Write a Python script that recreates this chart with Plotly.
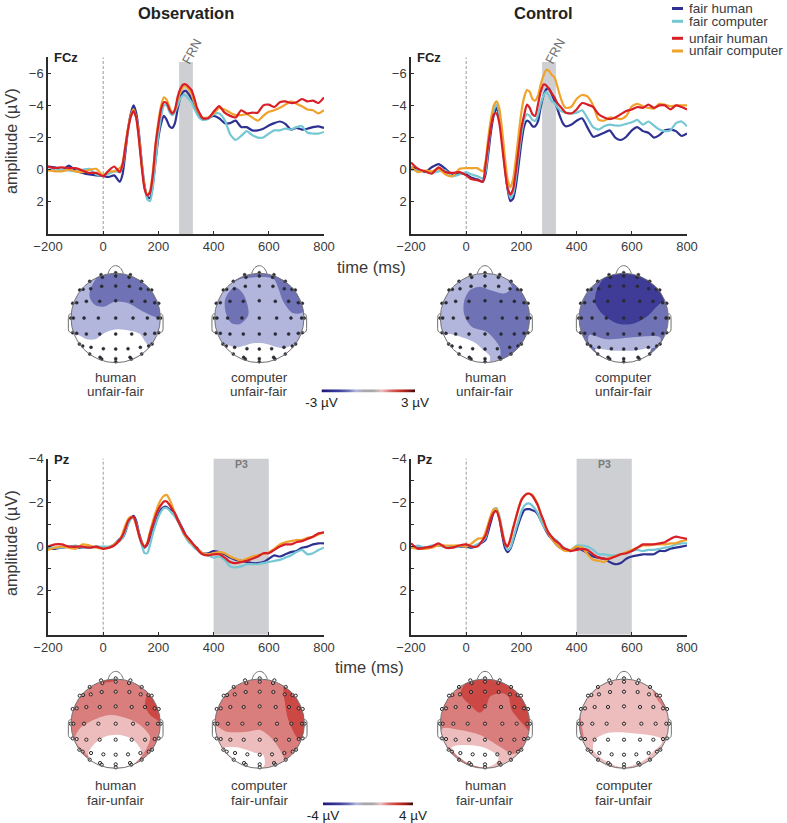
import numpy as np
import plotly.graph_objects as go

W, H = 787, 823
FONT = "Liberation Sans"
TXT = "#3a3a3c"

# ---------- ERP data (microvolts; negative plotted upwards) ----------
TIME = [-200,-175,-150,-125,-100,-75,-50,-25,0,20,40,60,
        70,80,90,100,110,120,130,140,150,160,170,180,190,200,210,
        220,230,240,250,260,270,280,290,300,310,320,330,340,350,360,
        380,400,420,440,460,480,500,520,540,560,580,600,620,640,660,680,700,720,740,760,780,800]

OBS_FCZ_FAIR_HUMAN = [-0.2,-0.15,0.05,-0.25,0.05,0.2,0.3,0.35,0.4,0.45,0.35,0.75,
    0.3,-1.0,-2.5,-3.5,-4.0,-3.5,-2.2,-0.4,1.0,1.7,1.75,0.9,-0.6,-2.0,-2.9,
    -3.35,-3.1,-2.7,-2.6,-2.9,-3.8,-4.5,-4.85,-4.9,-4.7,-4.4,-4.0,-3.6,-3.3,-3.15,
    -3.2,-3.35,-3.2,-2.9,-2.9,-3.05,-2.65,-2.65,-2.45,-2.45,-2.55,-2.75,-2.9,-3.0,-2.85,-2.5,-2.6,-2.5,-2.55,-2.65,-2.7,-2.6]
OBS_FCZ_FAIR_COMPUTER = [0,0.05,0,0.05,0.1,0,-0.05,0.3,0.35,0.25,0.1,0.15,
    -0.2,-1.3,-2.5,-3.3,-3.7,-3.2,-2.0,-0.3,1.1,1.85,1.95,1.1,-0.6,-2.2,-3.3,
    -4.0,-4.0,-3.6,-3.4,-3.6,-4.0,-4.45,-4.65,-4.6,-4.4,-4.2,-3.8,-3.45,-3.2,-3.1,
    -3.15,-3.45,-3.5,-3.1,-2.2,-1.85,-2.1,-2.4,-2.15,-2.0,-2.0,-2.25,-2.45,-2.45,-2.55,-2.5,-2.65,-2.7,-2.3,-2.25,-2.25,-2.35]
OBS_FCZ_UNFAIR_HUMAN = [-0.2,-0.1,-0.15,-0.1,-0.1,0.05,0.2,0.2,0.4,0.05,-0.2,0.15,
    -0.3,-1.4,-2.5,-3.3,-3.65,-3.2,-1.8,-0.1,1.2,1.6,1.4,0.3,-1.6,-2.8,-3.8,
    -4.2,-4.15,-3.75,-3.5,-3.75,-4.55,-5.05,-5.3,-5.3,-5.15,-4.95,-4.45,-3.85,-3.5,-3.2,
    -3.2,-3.6,-3.95,-3.55,-3.35,-3.25,-3.7,-3.5,-3.55,-3.55,-4.0,-4.05,-3.9,-4.2,-4.25,-4.15,-4.2,-4.4,-4.25,-4.3,-4.15,-4.5]
OBS_FCZ_UNFAIR_COMPUTER = [0.05,0.1,0.1,0,0.1,0.15,0,-0.05,0.35,0.1,0.1,-0.1,
    -0.4,-1.5,-2.6,-3.4,-3.75,-3.2,-1.9,-0.2,1.1,1.6,1.3,0.1,-1.6,-3.0,-4.0,
    -4.5,-4.35,-3.9,-3.55,-3.7,-4.4,-4.85,-5.2,-5.2,-5.0,-4.7,-4.2,-3.75,-3.45,-3.25,
    -3.25,-3.5,-3.85,-3.75,-3.55,-3.4,-3.4,-3.45,-3.25,-3.05,-3.35,-3.6,-3.7,-3.85,-4.05,-4.25,-4.1,-3.95,-3.75,-3.7,-3.5,-3.7]

CTL_FCZ_FAIR_HUMAN = [-0.15,-0.05,0.15,-0.15,-0.35,-0.05,0.3,0.25,0.3,0.5,0.6,0.75,
    0.3,-1.0,-2.4,-3.4,-3.85,-3.3,-1.9,-0.2,1.2,1.95,1.8,1.0,-0.3,-1.7,-2.7,
    -3.05,-2.95,-2.7,-2.7,-3.0,-3.9,-4.6,-5.0,-5.05,-4.7,-4.3,-3.8,-3.3,-2.9,-2.7,
    -2.8,-3.05,-3.2,-2.6,-2.05,-2.15,-2.3,-2.45,-2.0,-1.85,-2.05,-2.45,-2.65,-2.4,-2.3,-2.0,-2.15,-2.45,-2.5,-2.4,-2.1,-2.25]
CTL_FCZ_FAIR_COMPUTER = [0,0.05,0.1,0.2,0.1,0.05,0.4,0.3,0.15,0.3,0.4,0.55,
    0.1,-1.4,-2.8,-3.7,-4.05,-3.5,-2.1,-0.3,1.05,1.75,1.5,0.5,-0.9,-2.2,-3.1,
    -3.45,-3.35,-3.1,-3.05,-3.4,-4.1,-4.6,-4.85,-4.6,-4.25,-4.15,-3.9,-3.7,-3.6,-3.55,
    -3.5,-3.55,-3.7,-3.2,-2.65,-2.5,-2.7,-2.8,-2.75,-2.75,-2.85,-2.95,-3.1,-2.8,-3.0,-2.75,-2.5,-2.4,-2.45,-2.9,-3.0,-2.7]
CTL_FCZ_UNFAIR_HUMAN = [-0.45,-0.05,0.1,0.25,-0.15,0.15,0.2,0.15,0.35,0.6,0.65,0.75,
    -0.3,-1.6,-2.7,-3.45,-3.5,-2.9,-1.5,0.0,1.15,1.55,1.2,0.1,-1.3,-2.6,-3.4,
    -4.05,-3.85,-3.45,-3.35,-4.05,-4.85,-5.3,-5.25,-5.0,-4.75,-4.5,-4.15,-3.95,-3.75,-3.55,
    -3.5,-3.75,-4.15,-4.05,-3.9,-3.45,-3.25,-3.15,-3.25,-3.45,-3.65,-3.75,-3.9,-3.85,-4.05,-3.85,-4.0,-4.0,-3.75,-4.0,-3.9,-3.75]
CTL_FCZ_UNFAIR_COMPUTER = [-0.2,0.15,0.05,0.1,-0.05,0.3,0.4,-0.05,-0.1,-0.1,-0.1,0.1,
    -0.5,-2.0,-3.2,-4.0,-4.25,-3.8,-2.5,-0.8,0.6,1.1,0.6,-0.7,-2.2,-3.6,-4.5,
    -4.95,-4.85,-4.4,-4.3,-4.6,-5.3,-5.85,-6.2,-6.15,-5.9,-5.75,-5.2,-4.6,-4.1,-3.85,
    -3.9,-4.4,-4.65,-4.55,-4.0,-3.1,-3.05,-3.25,-3.2,-3.15,-3.35,-3.95,-4.1,-3.95,-3.85,-3.8,-4.1,-4.05,-3.95,-4.0,-4.0,-4.0]

OBS_PZ_FAIR_HUMAN = [0.1,0.1,0.05,0,0.05,0.05,0.05,0.0,0.05,0.05,-0.1,-0.35,
    -0.4,-0.65,-1.05,-1.3,-1.4,-1.15,-0.6,-0.2,0.05,-0.1,-0.4,-0.75,-1.1,-1.45,-1.7,
    -1.8,-1.8,-1.7,-1.65,-1.5,-1.25,-1.0,-0.75,-0.5,-0.35,-0.2,-0.05,0.05,0.2,0.3,
    0.3,0.2,0.25,0.35,0.5,0.6,0.65,0.7,0.75,0.75,0.7,0.55,0.4,0.45,0.35,0.25,0.2,0.05,0,-0.1,-0.15,-0.15]
OBS_PZ_FAIR_COMPUTER = [0.05,0.05,0.05,0,-0.05,0.05,0.05,0,0.0,0.0,-0.1,-0.25,
    -0.4,-0.7,-1.0,-1.25,-1.3,-1.05,-0.5,-0.05,0.3,0.3,-0.1,-0.6,-1.0,-1.35,-1.6,
    -1.75,-1.75,-1.65,-1.5,-1.35,-1.15,-0.9,-0.6,-0.4,-0.2,-0.1,0.05,0.15,0.25,0.35,
    0.4,0.5,0.45,0.6,0.9,0.95,0.9,0.8,0.8,0.8,0.75,0.7,0.65,0.6,0.5,0.4,0.25,0.15,0.35,0.3,0.15,0.05]
OBS_PZ_UNFAIR_HUMAN = [0,-0.1,-0.1,0,0,0,0.05,0,0.1,0.05,-0.05,-0.3,
    -0.5,-0.8,-1.15,-1.3,-1.35,-1.0,-0.5,-0.15,0.0,-0.15,-0.6,-1.0,-1.4,-1.7,-1.9,
    -2.05,-2.05,-1.9,-1.7,-1.5,-1.2,-0.95,-0.7,-0.5,-0.35,-0.2,-0.05,0.1,0.25,0.35,
    0.4,0.35,0.35,0.5,0.7,0.75,0.7,0.65,0.55,0.45,0.3,0.3,0.15,0.0,-0.1,-0.1,-0.2,-0.25,-0.35,-0.45,-0.6,-0.65]
OBS_PZ_UNFAIR_COMPUTER = [0.15,0.05,0,0.05,0.1,-0.1,-0.05,0.05,0.1,0.05,-0.1,-0.3,
    -0.6,-0.95,-1.25,-1.35,-1.3,-0.95,-0.5,-0.2,0.0,-0.2,-0.7,-1.15,-1.55,-1.9,-2.15,
    -2.3,-2.35,-2.15,-1.85,-1.5,-1.2,-0.95,-0.65,-0.45,-0.3,-0.15,-0.05,0.1,0.2,0.3,
    0.35,0.3,0.25,0.3,0.45,0.55,0.65,0.55,0.45,0.4,0.35,0.25,0.1,-0.1,-0.2,-0.25,-0.3,-0.3,-0.4,-0.45,-0.55,-0.65]

CTL_PZ_FAIR_HUMAN = [0.05,0.05,0.05,0.0,-0.05,0,0,0,0,0.05,-0.05,-0.2,
    -0.3,-0.7,-1.15,-1.55,-1.65,-1.3,-0.55,0.05,0.25,0.1,-0.25,-0.65,-1.05,-1.4,-1.65,
    -1.7,-1.7,-1.65,-1.6,-1.45,-1.2,-0.95,-0.7,-0.5,-0.35,-0.2,-0.05,0.05,0.1,0.15,
    0.2,0.05,0.15,0.3,0.45,0.5,0.55,0.7,0.8,0.75,0.55,0.45,0.4,0.35,0.35,0.35,0.2,0.2,0.1,0.05,0.0,-0.05]
CTL_PZ_FAIR_COMPUTER = [0.05,-0.05,0.05,-0.05,-0.05,0.0,0.05,0.0,-0.05,0.0,-0.1,-0.25,
    -0.4,-0.9,-1.35,-1.7,-1.75,-1.4,-0.8,-0.15,0.15,0.05,-0.35,-0.8,-1.2,-1.6,-1.85,
    -1.95,-1.95,-1.85,-1.7,-1.5,-1.2,-0.95,-0.75,-0.6,-0.45,-0.35,-0.25,-0.1,0.0,0.1,
    0.15,-0.05,-0.05,0.0,0.15,0.35,0.35,0.4,0.4,0.35,0.3,0.2,0.15,0.2,0.15,0.15,0.1,0.05,0.0,-0.1,-0.15,-0.15]
CTL_PZ_UNFAIR_HUMAN = [-0.15,0.1,0.05,0.0,-0.15,0.05,0.05,-0.05,-0.1,0.0,0.0,-0.3,
    -0.5,-0.9,-1.3,-1.55,-1.6,-1.25,-0.65,-0.15,0.0,-0.35,-0.85,-1.3,-1.75,-2.1,-2.3,
    -2.4,-2.4,-2.3,-2.1,-1.85,-1.5,-1.2,-0.85,-0.6,-0.45,-0.3,-0.2,-0.1,0.05,0.1,
    0.2,0.15,0.1,0.15,0.35,0.5,0.55,0.55,0.45,0.35,0.3,0.2,0.05,-0.1,-0.1,-0.1,-0.15,-0.2,-0.35,-0.45,-0.4,-0.35]
CTL_PZ_UNFAIR_COMPUTER = [0.05,0.1,0.1,0.05,-0.05,-0.05,-0.05,-0.05,0.0,-0.15,-0.35,-0.4,
    -0.65,-1.05,-1.45,-1.7,-1.7,-1.3,-0.7,-0.2,0,-0.3,-0.8,-1.3,-1.75,-2.15,-2.3,
    -2.4,-2.4,-2.35,-2.15,-1.9,-1.5,-1.15,-0.8,-0.55,-0.35,-0.2,-0.05,0.05,0.15,0.2,
    0.15,0.0,0.05,0.35,0.6,0.65,0.7,0.5,0.45,0.35,0.25,0.15,0.05,-0.05,-0.05,-0.1,-0.1,-0.1,-0.15,-0.15,-0.25,-0.3]

SERIES_NAMES = ["fair human", "fair computer", "unfair human", "unfair computer"]
DRAW_ORDER = [0, 1, 3, 2]
SERIES_COLORS = {"fair human": "#2e3192", "fair computer": "#74c7d3",
                 "unfair human": "#d81e26", "unfair computer": "#f0a32c"}

XTICKS = [-200, 0, 200, 400, 600, 800]
XTICKTEXT = ["\u2212200", "0", "200", "400", "600", "800"]

# ---------- topography contours, traced in the head's own units (radius 134) ----------
RED_PALE, RED_MID, RED_DARK = "#edbcbc", "#d97d7d", "#cc4844"
BLUE_PALE, BLUE_MID, BLUE_DARK = "#b2b6dd", "#6f73b6", "#3f3c98"
WHITE = "#ffffff"

M1_WHITE = [(108,225),(140,238),(165,238),(195,218),(230,208),(270,212),(300,222),(312,240),(325,262),(310,280),(280,297),(270,320),(180,330),(80,300)]
M1_MID = [(182,38),(150,90),(150,115),(165,135),(190,140),(225,125),(265,130),(310,155),(362,172),(380,120),(360,60),(300,25),(210,25)]
M2_WHITE = [(548,252),(590,262),(640,250),(670,250),(730,265),(775,250),(760,300),(660,335),(570,300)]
M2_BLOB = [(585,82),(605,95),(620,125),(625,165),(600,192),(575,190),(558,160),(555,120),(568,95)]
M2_MID = [(575,66),(610,55),(680,52),(702,58),(715,85),(730,125),(760,160),(792,155),(810,120),(795,60),(700,20),(600,25)]
M3_WHITE = [(85,222),(130,233),(165,248),(190,270),(210,290),(200,325),(140,305),(90,265),(68,232)]
M3_MID = [(265,60),(275,82),(255,100),(210,90),(180,80),(150,90),(132,125),(133,165),(155,200),(200,215),(225,240),(240,265),(240,295),(225,325),(300,300),(345,220),(345,120),(290,45)]
M4_PALE = [(508,225),(560,238),(640,232),(720,232),(720,250),(690,268),(640,274),(560,274),(520,262),(505,245)]
M4_WHITE = [(525,268),(580,272),(640,272),(692,266),(670,302),(620,325),(560,302)]
M4_DARK = [(548,58),(530,90),(525,125),(545,160),(590,190),(635,192),(680,170),(715,135),(735,118),(690,55),(650,30),(570,30)]
M5_PALE = [(105,240),(120,205),(160,180),(210,165),(260,175),(300,195),(330,230),(322,260),(300,292),(250,322),(200,322),(150,292)]
M5_WHITE = [(145,280),(165,250),(195,230),(240,225),(280,240),(300,265),(305,285),(270,318),(180,318),(150,300)]
M5_DARK = [(322,105),(315,135),(330,165),(362,190),(362,232),(380,195),(375,130),(340,92)]
M5_TOP = [(188,62),(205,55),(232,52),(222,62),(195,67)]
M6_PALE = [(522,195),(560,215),(620,215),(660,210),(690,230),(720,270),(732,302),(700,318),(640,332),(590,312),(560,282),(530,240)]
M6_WHITE = [(552,265),(590,262),(650,280),(670,285),(672,318),(640,330),(600,312)]
M6_DARK = [(733,80),(735,130),(745,180),(778,238),(800,200),(800,130),(765,80)]
M7_DARK = [(150,55),(122,100),(150,135),(180,158),(200,135),(210,110),(245,100),(265,110),(275,150),(320,205),(332,222),(345,190),(338,100),(270,50),(190,40)]
M7_PALE = [(68,205),(120,210),(180,225),(240,260),(280,282),(300,272),(270,302),(230,322),(150,312),(85,262),(62,230)]
M7_WHITE = [(95,262),(130,255),(190,262),(235,290),(232,305),(200,322),(150,312),(110,285)]
M8_LEFT = [(478,160),(486,200),(490,240),(470,230),(465,170)]
M8_RIGHT = [(700,92),(720,130),(745,158),(765,130),(720,85)]
M8_WHITE = [(525,240),(560,220),(620,218),(722,235),(725,250),(700,275),(670,302),(612,322),(560,305),(520,270)]

MAPS = [
    dict(cx=115.7, cy=318.0, zc=(227,174), base=BLUE_PALE, layers=[(WHITE,M1_WHITE),(BLUE_MID,M1_MID)], caption=("human","unfair-fair"), open_dots=False),
    dict(cx=259.3, cy=318.0, zc=(658,174), base=BLUE_PALE, layers=[(WHITE,M2_WHITE),(BLUE_MID,M2_BLOB),(BLUE_MID,M2_MID)], caption=("computer","unfair-fair"), open_dots=False),
    dict(cx=485.0, cy=318.0, zc=(195,174), base=BLUE_PALE, layers=[(WHITE,M3_WHITE),(BLUE_MID,M3_MID)], caption=("human","unfair-fair"), open_dots=False),
    dict(cx=623.7, cy=318.0, zc=(611,174), base=BLUE_MID, layers=[(BLUE_PALE,M4_PALE),(WHITE,M4_WHITE),(BLUE_DARK,M4_DARK)], caption=("computer","unfair-fair"), open_dots=False),
    dict(cx=115.7, cy=723.7, zc=(227,191), base=RED_MID, layers=[(RED_PALE,M5_PALE),(WHITE,M5_WHITE),(RED_DARK,M5_DARK),(RED_DARK,M5_TOP)], caption=("human","fair-unfair"), open_dots=True),
    dict(cx=259.7, cy=723.7, zc=(659,191), base=RED_MID, layers=[(RED_PALE,M6_PALE),(WHITE,M6_WHITE),(RED_DARK,M6_DARK)], caption=("computer","fair-unfair"), open_dots=True),
    dict(cx=485.0, cy=723.7, zc=(195,191), base=RED_MID, layers=[(RED_DARK,M7_DARK),(RED_PALE,M7_PALE),(WHITE,M7_WHITE)], caption=("human","fair-unfair"), open_dots=True),
    dict(cx=624.0, cy=723.7, zc=(612,191), base=RED_PALE, layers=[(RED_MID,M8_LEFT),(RED_MID,M8_RIGHT),(WHITE,M8_WHITE)], caption=("computer","fair-unfair"), open_dots=True),
]

ELECTRODES_X = [0,0,-44,44,-40,40,-78,78,-108,108,-98,98,-75,75,-42,0,41,
                -129,-117,-88,-48,0,48,88,117,129,
                -135,-127,-95,-52,0,52,95,127,135,
                -129,-117,-88,-48,0,48,88,117,129,
                -109,-99,-74,-37,0,37,74,99,109,
                -78,-47,-42,0,0,43,47,78]
ELECTRODES_Y = [-136,-126,-130,-130,-122,-122,-110,-110,-84,-84,-86,-86,-88,-88,-95,-96,-95,
                -44,-46,-50,-50,-52,-50,-50,-46,-44,
                0,0,0,0,0,0,0,0,0,
                44,46,48,48,48,48,48,46,44,
                78,84,88,92,93,92,88,84,78,
                108,118,123,122,131,118,123,108]

CBAR_COLORS = ["#1f1a78","#2e2c8e","#3f3e9c","#6c70b5","#b2b6dd","#a8a8a8","#a8a8a8","#ecc0c0","#d97070","#cc3a30","#9c2018","#3c0a08"]

# ---------- geometry helpers ----------
px = lambda v: v / W
py = lambda v: 1 - v / H

fig = go.Figure()
axis_n = [0]
layout_axes = {}
shapes = []
annotations = []

def new_axes(x0, x1, ytop, ybot, xcfg, ycfg):
    axis_n[0] += 1
    n = axis_n[0]
    s = "" if n == 1 else str(n)
    layout_axes[f"xaxis{s}"] = dict(domain=[px(x0), px(x1)], anchor=f"y{s}", automargin=False, **xcfg)
    layout_axes[f"yaxis{s}"] = dict(domain=[py(ybot), py(ytop)], anchor=f"x{s}", automargin=False, **ycfg)
    return f"x{s}", f"y{s}"

def note(x, y, text, size=13, color=TXT, bold=False, angle=0, align="center", xanchor="center"):
    annotations.append(dict(x=px(x), y=py(y), xref="paper", yref="paper", text=f"<b>{text}</b>" if bold else text,
                            showarrow=False, xanchor=xanchor, yanchor="middle", align=align, textangle=angle,
                            font=dict(family=FONT, size=size, color=color)))

AXCOL = "#2b2b2b"
def erp_panel(x0, x1, ytop, ybot, yrange, ytickvals, yticktext, series, band, band_top, channel, label_xy, label_text, label_angle, label_kw):
    xcfg = dict(range=[-200, 800], tickvals=XTICKS, ticktext=XTICKTEXT, ticks="inside", ticklen=3, tickwidth=1,
                tickcolor=AXCOL, showgrid=False, zeroline=False, showline=True, linecolor=AXCOL, linewidth=1.5,
                tickfont=dict(family=FONT, size=13, color=TXT), ticklabelstandoff=0)
    ycfg = dict(range=yrange, tickvals=ytickvals, ticktext=yticktext, ticks="inside", ticklen=3, tickwidth=1,
                tickcolor=AXCOL, showgrid=False, zeroline=False, showline=True, linecolor=AXCOL, linewidth=1.5,
                tickfont=dict(family=FONT, size=13, color=TXT))
    xa, ya = new_axes(x0, x1, ytop, ybot, xcfg, ycfg)
    shapes.append(dict(type="rect", xref=xa, yref=ya, x0=band[0], x1=band[1], y0=yrange[0], y1=band_top,
                       fillcolor="#cdcfd2", line_width=0, layer="below"))
    fig.add_trace(go.Scatter(x=[0, 0], y=yrange, mode="lines", xaxis=xa, yaxis=ya, showlegend=False, hoverinfo="skip",
                             line=dict(color="#9a9a9a", width=1, dash="3px,2px")))
    for i in DRAW_ORDER:
        name, vals = SERIES_NAMES[i], series[i]
        assert len(vals) == len(TIME), (channel, name, len(vals))
        fig.add_trace(go.Scatter(x=TIME, y=vals, mode="lines", name=name, xaxis=xa, yaxis=ya, showlegend=False,
                                 line=dict(color=SERIES_COLORS[name], width=2.2, shape="spline", smoothing=0.6)))
    note(x0 + 4, ytop + 0.5, channel, size=13, color="#222", bold=True, xanchor="left")
    note(label_xy[0], label_xy[1], label_text, angle=label_angle, **label_kw)

FCZ_TICKS = [-6, -4, -2, 0, 2, 4]
FCZ_TEXT = ["\u22126", "\u22124", "\u22122", "0", "2", ""]
PZ_TICKS = [-4, -3, -2, -1, 0, 1, 2, 3, 4]
PZ_TEXT = ["\u22124", "", "\u22122", "", "0", "", "2", "", ""]

frn_kw = dict(size=13, color="#6f6f6f")
p3_kw = dict(size=10.5, color="#7a7a7a", bold=True)

erp_panel(48, 324, 57.2, 234, [4, -7], FCZ_TICKS, FCZ_TEXT,
          [OBS_FCZ_FAIR_HUMAN, OBS_FCZ_FAIR_COMPUTER, OBS_FCZ_UNFAIR_HUMAN, OBS_FCZ_UNFAIR_COMPUTER],
          (275, 325), -6.7, "FCz", (192, 52), "FRN", -62, frn_kw)
erp_panel(411, 687, 57.2, 234, [4, -7], FCZ_TICKS, FCZ_TEXT,
          [CTL_FCZ_FAIR_HUMAN, CTL_FCZ_FAIR_COMPUTER, CTL_FCZ_UNFAIR_HUMAN, CTL_FCZ_UNFAIR_COMPUTER],
          (275, 325), -6.7, "FCz", (555.7, 51), "FRN", -62, frn_kw)
erp_panel(48, 324, 458.5, 634.7, [4, -4], PZ_TICKS, PZ_TEXT,
          [OBS_PZ_FAIR_HUMAN, OBS_PZ_FAIR_COMPUTER, OBS_PZ_UNFAIR_HUMAN, OBS_PZ_UNFAIR_COMPUTER],
          (400, 600), -4, "Pz", (241, 464), "P3", 0, p3_kw)
erp_panel(411, 687, 458.5, 634.7, [4, -4], PZ_TICKS, PZ_TEXT,
          [CTL_PZ_FAIR_HUMAN, CTL_PZ_FAIR_COMPUTER, CTL_PZ_UNFAIR_HUMAN, CTL_PZ_UNFAIR_COMPUTER],
          (400, 600), -4, "Pz", (604, 464), "P3", 0, p3_kw)

# ---------- topographic maps ----------
HALF = 170
RAD = 134
theta = np.linspace(0, 2*np.pi, 181)
mask_x = [-HALF, HALF, HALF, -HALF, -HALF] + list(-RAD*np.sin(theta)) + [-HALF]
mask_y = [-HALF, -HALF, HALF, HALF, -HALF] + list(-RAD*np.cos(theta)) + [-HALF]
hidden = dict(visible=False, fixedrange=True)
for m in MAPS:
    hw = HALF / 3.0
    xa, ya = new_axes(m["cx"] - hw, m["cx"] + hw, m["cy"] - hw, m["cy"] + hw,
                      dict(range=[-HALF, HALF], **hidden), dict(range=[HALF, -HALF], **hidden))
    shapes.append(dict(type="circle", xref=xa, yref=ya, x0=-RAD, x1=RAD, y0=-RAD, y1=RAD,
                       fillcolor=m["base"], line_width=0, layer="below"))
    zx, zy = m["zc"]
    for color, pts in m["layers"]:
        xs = [p[0] - zx for p in pts] + [pts[0][0] - zx]
        ys = [p[1] - zy for p in pts] + [pts[0][1] - zy]
        fig.add_trace(go.Scatter(x=xs, y=ys, mode="lines", fill="toself", fillcolor=color, xaxis=xa, yaxis=ya,
                                 showlegend=False, hoverinfo="skip", line=dict(width=0, color=color, shape="spline", smoothing=0.9)))
    fig.add_trace(go.Scatter(x=mask_x, y=mask_y, mode="lines", fill="toself", fillcolor="white", xaxis=xa, yaxis=ya,
                             showlegend=False, hoverinfo="skip", line=dict(width=0, color="white")))
    head_line = dict(color="#707070", width=1)
    shapes.append(dict(type="circle", xref=xa, yref=ya, x0=-RAD, x1=RAD, y0=-RAD, y1=RAD, line=head_line, layer="above"))
    shapes.append(dict(type="path", xref=xa, yref=ya, line=head_line, layer="above",
                       path="M -23 -133 C -14 -165 14 -165 23 -133"))
    for s in (-1, 1):
        shapes.append(dict(type="path", xref=xa, yref=ya, line=head_line, layer="above",
                           path=f"M {s*132} -12 C {s*140} -14 {s*142} -8 {s*142} 2 L {s*142} 32 C {s*142} 44 {s*134} 46 {s*127} 40"))
    if m["open_dots"]:
        marker = dict(size=3.2, color="rgba(255,255,255,0.3)", line=dict(color="#262626", width=1))
    else:
        marker = dict(size=3.0, color="#2a2a33", line=dict(color="#2a2a33", width=0.5))
    fig.add_trace(go.Scatter(x=ELECTRODES_X, y=ELECTRODES_Y, mode="markers", marker=marker, xaxis=xa, yaxis=ya,
                             showlegend=False, hoverinfo="skip"))
    ytop = 377 if m["cy"] < 400 else 785
    note(m["cx"], ytop, m["caption"][0], size=13.5, color=TXT)
    note(m["cx"], ytop + 15, m["caption"][1], size=13.5, color=TXT)

# ---------- colour bars ----------
def colorbar(x0, x1, y, limit):
    ticks = np.linspace(-limit, limit, len(CBAR_COLORS))
    xa, ya = new_axes(x0, x1, y - 1.7, y + 1.7,
                      dict(range=[-limit, limit], tickvals=[-limit, limit],
                           ticktext=[f"-{limit} \u00b5V", f"{limit} \u00b5V"], showgrid=False, zeroline=False, ticks="",
                           tickfont=dict(family=FONT, size=13.5, color="#222"), ticklabelstandoff=0),
                      dict(range=[0, 1], visible=False))
    fig.add_trace(go.Heatmap(x=ticks, y=[0.5], z=[list(ticks)], xaxis=xa, yaxis=ya, showscale=False, zsmooth="best",
                             hoverinfo="skip",
                             colorscale=[[i/(len(CBAR_COLORS)-1), c] for i, c in enumerate(CBAR_COLORS)]))

colorbar(321.5, 415, 391, 3)
colorbar(323, 413, 804, 4)

# ---------- titles and axis labels ----------
note(186, 13, "Observation", size=16.5, color="#222", bold=True)
note(543, 13, "Control", size=16.5, color="#222", bold=True)
note(11, 141, "amplitude (\u00b5V)", size=16.2, angle=-90)
note(11, 543, "amplitude (\u00b5V)", size=16.2, angle=-90)
note(371.5, 266.5, "time (ms)", size=16.5)
note(369, 667, "time (ms)", size=16.5)

# ---------- legend ----------
LEGEND_ROWS = [8.5, 21.3, 38.3, 51]
for name, y in zip(SERIES_NAMES, LEGEND_ROWS):
    shapes.append(dict(type="line", xref="paper", yref="paper", x0=px(672), x1=px(683), y0=py(y), y1=py(y),
                       line=dict(color=SERIES_COLORS[name], width=3)))
    note(687, y, name, size=13.5, xanchor="left")

fig.update_layout(width=W, height=H, margin=dict(l=0, r=0, t=0, b=0), autosize=False,
                  paper_bgcolor="white", plot_bgcolor="rgba(0,0,0,0)", showlegend=False,
                  shapes=shapes, annotations=annotations, **layout_axes)
fig.write_html("out.html", config={"displayModeBar": False},
               post_script="document.body.style.margin='0';document.body.style.overflow='hidden';")
